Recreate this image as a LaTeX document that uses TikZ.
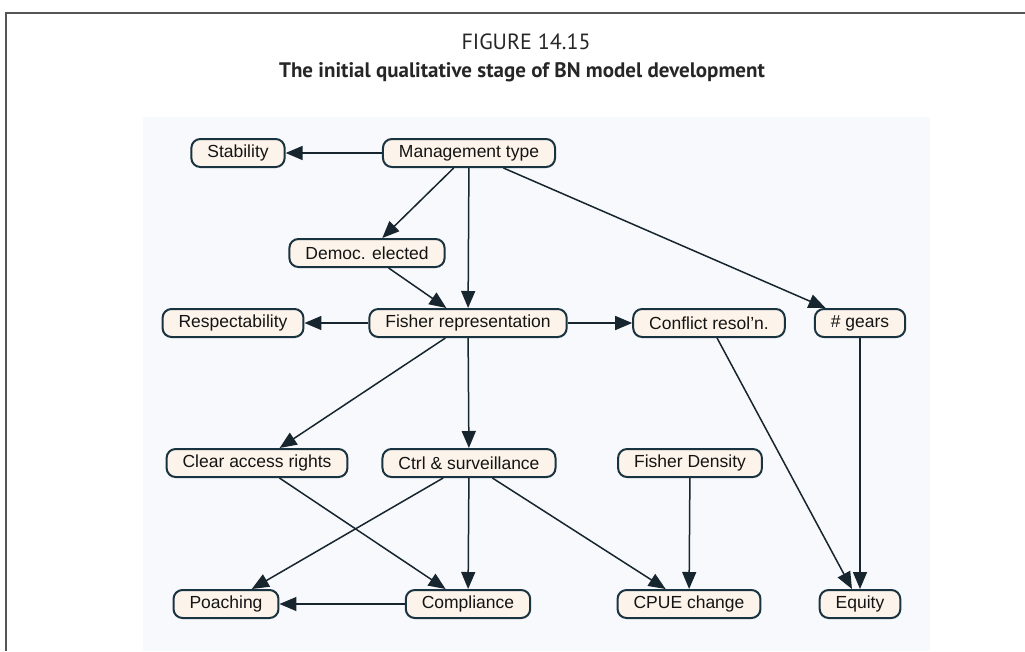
\documentclass[tikz,border=0pt]{standalone}
\usepackage{fontspec}
\setmainfont{Liberation Sans}
\newfontfamily\captionfont{PT Sans}
\usetikzlibrary{arrows.meta, positioning}

\definecolor{nodeedge}{HTML}{1A3340}
\definecolor{nodefill}{HTML}{FCF4EA}
\definecolor{panelbg}{HTML}{F8F9FC}
\definecolor{framegray}{HTML}{555555}
\definecolor{linkcol}{HTML}{17252E}

\begin{document}
\begin{tikzpicture}[
  x=1pt, y=-1pt,
  var/.style={rectangle, rounded corners=9pt, draw=nodeedge, line width=2pt, fill=nodefill, minimum height=28pt, inner xsep=16pt, inner ysep=0pt, font=\fontsize{17.5}{20}\selectfont, text=black!92},
  link/.style={-{Triangle[length=17pt, width=14pt]}, line width=1.5pt, draw=linkcol},
  ttl/.style={font=\captionfont\fontsize{22}{26}\selectfont, text=black!85}
]
\useasboundingbox (0,0) rectangle (1025,651);

% Page frame and panel
\draw[framegray, line width=2pt] (1025,13) -| (6,651);
\fill[panelbg] (143,117) rectangle (930,651);

% Caption
\node[ttl] (figno) at (526,42) {FIGURE 14.15};
\node[ttl, font=\captionfont\bfseries\fontsize{21}{26}\selectfont] (caption) at (522,72) {The initial qualitative stage of BN model development};

% Row 1
\node[var] (stab) at (238,153) {Stability};
\node[var] (mgmt) at (469,153) {Management type};

% Row 2
\node[var] (democ) at (367,253) {Democ. elected};

% Row 3
\node[var] (resp) at (233,323) {Respectability};
\node[var] (fishrep) at (468,323) {Fisher representation};
\node[var] (confl) at (709,323) {Conflict resol'n.};
\node[var] (gears) at (860,323) {\# gears};

% Row 4
\node[var] (clear) at (257,463) {Clear access rights};
\node[var] (ctrl) at (469,463) {Ctrl \& surveillance};
\node[var] (dens) at (690,463) {Fisher Density};

% Row 5
\node[var] (poach) at (226,604) {Poaching};
\node[var] (compl) at (468,604) {Compliance};
\node[var] (cpue) at (689,604) {CPUE change};
\node[var] (equity) at (860,604) {Equity};

% Links
\draw[link] (mgmt) -- (stab);
\draw[link] (mgmt) -- (democ);
\draw[link] (mgmt) -- (fishrep);
\draw[link] (mgmt) -- (gears);
\draw[link] (democ) -- (fishrep);
\draw[link] (fishrep) -- (resp);
\draw[link] (fishrep) -- (confl);
\draw[link] (fishrep) -- (clear);
\draw[link] (fishrep) -- (ctrl);
\draw[link] (confl) -- (equity);
\draw[link] (gears) -- (equity);
\draw[link] (clear) -- (compl);
\draw[link] (ctrl) -- (poach);
\draw[link] (ctrl) -- (compl);
\draw[link] (ctrl) -- (cpue);
\draw[link] (dens) -- (cpue);
\draw[link] (compl) -- (poach);

\end{tikzpicture}
\end{document}
